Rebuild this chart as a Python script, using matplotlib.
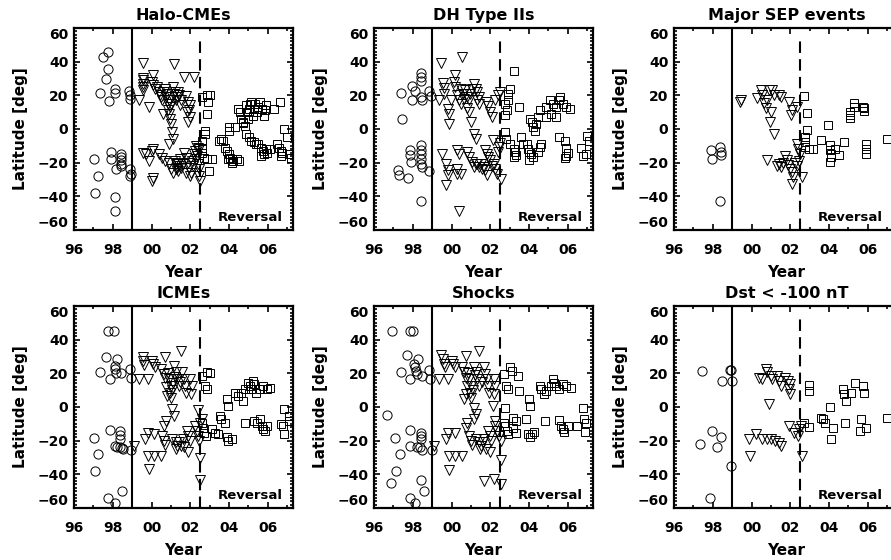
import matplotlib
matplotlib.use("Agg")
from matplotlib import pyplot as plt
from matplotlib.ticker import MultipleLocator, FuncFormatter

plt.rcParams["font.family"] = ["DejaVu Sans"]
plt.rcParams["font.weight"] = "bold"

# values: (decimal year, latitude in deg)
# o = before 1999, v = 1999 to reversal, s = after reversal
halo_c = [(1997.75, 45.5), (1997.5, 42.7), (1997.75, 35.5), (1997.63, 30), (1997.33, 21.6),
          (1997.8, 16.8), (1998.1, 24), (1998.12, 21.6), (1998.86, 22.8), (1998.9, 20), (1998.9, 17.6),
          (1997.04, -18), (1997.26, -28), (1997.1, -38), (1997.9, -13.8), (1997.9, -17.6),
          (1998.1, -40.5), (1998.1, -48.9), (1998.18, -23.8), (1998.4, -14.6), (1998.4, -16.6),
          (1998.4, -18.6), (1998.45, -20.6), (1998.4, -22), (1998.9, -23.6), (1998.95, -26.5), (1998.9, -28)]
halo_t = [(1999.57, 39), (2001.15, 38.5), (2000.1, 32), (1999.55, 30.5), (1999.55, 29), (1999.57, 27),
          (1999.57, 25), (1999.57, 23), (2000.05, 28), (2000.08, 26), (1999.37, 17), (1999.85, 13),
          (2000.3, 25), (2000.4, 22), (2000.5, 19), (2000.55, 17), (2000.7, 24), (2000.8, 21), (2000.9, 17),
          (2000.95, 13), (2000.9, 9), (2000.93, 6), (2000.98, 3), (2000.6, 9), (2001.1, 25), (2001.15, 21),
          (2001.25, 17), (2001.3, 19), (2001.4, 20), (2001.5, 17), (2001.7, 31), (2002.17, 31), (2001.9, 16),
          (2001.95, 11), (2002.0, 7), (2001.9, 4), (2001.8, 19.5), (2000.75, 19), (2001.0, 15), (2001.2, 22),
          (2001.45, 14), (2000.45, 20), (2002.0, 14), (2001.85, 10), (2000.65, 22), (2000.85, 15),
          (2001.05, 19), (2001.35, 22), (2000.2, 24), (2000.85, 11),
          (2001.07, -2), (2001.1, -6), (2000.9, -9), (1999.57, -14), (1999.7, -15), (1999.85, -19),
          (2000.0, -13), (2000.1, -12), (2000.1, -29), (2000.05, -31), (2000.4, -15), (2000.55, -17),
          (2000.7, -19), (2000.9, -20), (2001.0, -24), (2001.1, -26), (2001.25, -21), (2001.3, -23),
          (2001.4, -22), (2001.5, -23), (2001.7, -14), (2001.8, -17), (2001.9, -20), (2001.95, -23),
          (2002.05, -26), (2002.0, -28), (2002.2, -15), (2002.3, -18), (2002.4, -21), (2002.45, -24),
          (2002.45, -28), (2002.5, -31), (2002.3, -10), (2002.4, -11), (2002.45, -12), (2001.8, -26),
          (2001.2, -19), (2001.35, -20), (2001.45, -18), (2001.6, -21), (2002.1, -19), (2002.15, -22),
          (2001.28, -24), (2001.38, -25), (2002.25, -13), (2002.35, -16)]
halo_s = [(2002.63, 19), (2002.85, 20), (2003.0, 20), (2002.9, 16), (2002.85, 9), (2002.6, -7),
          (2002.6, -11), (2002.6, -14), (2002.85, -18), (2002.97, -25), (2002.7, -17), (2002.75, -3),
          (2002.75, -1), (2003.1, -18), (2003.6, -6), (2003.7, -7), (2003.5, -7), (2004.0, 1), (2004.0, -1),
          (2003.8, -11), (2003.9, -13), (2004.0, -15), (2004.05, -17), (2004.15, -18), (2004.2, -19),
          (2004.4, -18), (2004.5, -19), (2003.95, -18), (2004.15, -20),
          (2004.45, 12), (2004.55, 10), (2004.6, 6), (2004.7, 4), (2004.9, 14), (2004.95, 10), (2005.0, 6),
          (2005.05, 12), (2005.1, 15), (2005.15, 16), (2005.25, 8), (2005.3, 12), (2005.35, 15),
          (2005.45, 10), (2005.5, 13), (2005.6, 16), (2005.7, 12), (2005.8, 8), (2005.85, 11), (2005.9, 14),
          (2004.3, 1), (2004.7, 3.5), (2004.8, 1.5), (2006.65, 16), (2006.3, 12),
          (2004.9, -3), (2005.05, -5), (2005.15, -7), (2005.3, -8), (2005.4, -9), (2005.5, -9),
          (2005.65, -11), (2005.75, -13), (2005.8, -15), (2005.9, -12), (2005.95, -14), (2005.65, -16),
          (2006.5, -9), (2006.6, -11), (2006.7, -13), (2006.7, -16), (2006.75, -14), (2006.85, 0),
          (2007.0, -5), (2007.1, -15), (2007.2, -17), (2006.1, -12)]

dh_c = [(1997.4, 21.6), (1997.45, 5.7), (1997.96, 25.6), (1998.1, 22.8), (1997.96, 17.2), (1998.43, 33),
        (1998.43, 30.7), (1998.43, 28.8), (1998.5, 17.2), (1998.4, 19), (1998.86, 22.8), (1998.94, 19.6),
        (1997.24, -24.6), (1997.27, -27.6), (1997.75, -29), (1997.85, -12.6), (1997.85, -15.6),
        (1997.9, -19.6), (1998.4, -9.6), (1998.43, -12.2), (1998.4, -15), (1998.43, -17.6), (1998.4, -20.6),
        (1998.5, -22.6), (1998.86, -25), (1998.43, -43)]
dh_t = [(1999.45, 39), (2000.56, 42.7), (2000.2, 32), (1999.55, 27.6), (1999.6, 24.3), (1999.63, 21),
        (1999.37, 17), (1999.96, 17), (1999.8, 12), (1999.87, 9), (2000.13, 28.2), (2000.2, 25),
        (2000.3, 20), (2000.4, 17), (2000.47, 15), (2000.5, 24), (2000.6, 21), (2000.7, 23), (2000.8, 19),
        (2000.9, 17), (2000.8, 12.3), (2000.9, 10), (2001.0, 4), (2001.15, 27), (2001.24, 24),
        (2001.3, 22), (2001.4, 19), (2001.3, 17), (2001.4, 15), (2001.8, 16), (2001.9, 13.6), (2002.0, 10),
        (2002.1, 7.3), (2002.25, 17), (2002.4, 20), (2002.5, 22), (1999.87, 3), (2000.65, 18),
        (2000.95, 21), (2001.05, 24),
        (2001.15, -2.7), (2001.24, -5.7), (2000.27, -12.6), (2000.4, -14.6), (1999.5, -15), (1999.7, -20.6),
        (1999.8, -24.6), (1999.83, -27.6), (1999.7, -33.5), (2000.3, -23.6), (2000.27, -26.6),
        (2000.47, -26.6), (2000.4, -48.9), (2000.8, -13.6), (2000.9, -16.6), (2001.07, -19.6),
        (2001.15, -22.6), (2001.24, -20.6), (2001.32, -20.6), (2001.4, -22.6), (2001.5, -20.6),
        (2001.65, -22.6), (2001.75, -24.6), (2001.83, -27.6), (2001.75, -12.6), (2001.83, -14.6),
        (2001.9, -16.6), (2002.0, -18.6), (2002.2, -20.6), (2002.25, -23.6), (2002.35, -26.6),
        (2002.4, -13.6), (2002.45, -10.6), (2002.5, -8.6), (2002.55, -29.6), (2002.15, -6.7),
        (2001.55, -24), (2002.1, -22)]
dh_s = [(2003.2, 34.7), (2003.0, 24), (2002.93, 21), (2002.9, 17), (2002.77, 15), (2002.85, 11),
        (2002.77, 8.3), (2002.77, -1.7), (2002.82, -5.7), (2003.0, -8.7), (2003.2, -11.6), (2003.25, -13.6),
        (2003.35, -15.6), (2003.2, -16.6), (2003.5, 13.3), (2003.6, -4.7), (2003.7, -8.7), (2003.87, -8.7),
        (2003.95, -11.6), (2004.0, -13.6), (2004.1, -14.6), (2004.2, -16.6), (2004.0, -18.6),
        (2004.47, -13.6), (2004.55, -10.6), (2004.63, -8.7),
        (2004.05, 6), (2004.13, 4), (2004.2, 1), (2004.3, -1), (2004.38, 3), (2004.47, 7), (2004.55, 11),
        (2004.9, 13), (2005.07, 17), (2005.24, 15), (2005.4, 13), (2005.57, 17), (2005.75, 15),
        (2005.9, 13), (2006.1, 12), (2005.15, 9), (2005.4, 7), (2004.9, 7), (2005.6, 19),
        (2005.57, -5), (2005.83, -7), (2005.9, -11), (2005.99, -14), (2005.9, -16), (2005.83, -17),
        (2006.8, -16), (2006.94, -15), (2007.0, -4), (2007.1, -7), (2006.7, -11)]

sep_c = [(1997.92, -12.6), (1997.97, -17.6), (1998.38, -10.6), (1998.43, -13.6), (1998.43, -15.6),
         (1998.38, -43)]
sep_t = [(1999.4, 16.2), (1999.45, 17.5), (2000.3, 18.2), (2000.47, 23.2), (2000.56, 20.2), (2000.64, 15.2),
         (2000.73, 12.2), (2000.8, 17.2), (2000.9, 23.2), (2000.98, 10.2), (2000.93, 4.3), (2001.15, -2.7),
         (2001.07, 23.2), (2001.15, 20.2), (2001.4, 20.2), (2001.5, 19.2), (2001.95, 16.2), (2002.05, 8.3),
         (2002.1, 11), (2002.34, 13.3),
         (2000.8, -18.2), (2001.4, -20.6), (2001.5, -22.6), (2001.75, -16), (2001.83, -18.5),
         (2001.88, -21.5), (2002.0, -23.5), (2002.07, -25.5), (2002.15, -28.5), (2002.1, -32.5),
         (2002.25, -20), (2002.34, -22), (2002.43, -19), (2002.5, -15), (2002.35, -8.7), (2002.4, -11.6),
         (2002.6, -28.6), (2001.6, -20), (2001.3, -22)]
sep_s = [(2002.73, 19.6), (2002.85, 9.3), (2002.85, -0.7), (2002.75, -4.7), (2002.75, -7.7), (2002.78, -10.6),
         (2002.95, -11.6), (2003.15, -11.6), (2003.6, -6.3), (2003.95, 2.3), (2004.05, -9.6),
         (2004.05, -12.6), (2004.1, -14.6), (2004.1, -16.6), (2004.05, -19.6), (2004.3, -11.6),
         (2004.5, -15.6), (2004.78, -7.7), (2005.06, 10.2), (2005.06, 8.3), (2005.06, 6.3), (2005.29, 15.2),
         (2005.3, 13.3), (2005.75, 13.3), (2005.8, 12.2), (2005.78, 10.8), (2005.9, -8.7), (2005.9, -11.6),
         (2005.9, -14.6), (2007.0, -5.7)]

icme_c = [(1997.75, 45.4), (1998.04, 45.4), (1997.67, 30), (1997.33, 21), (1997.84, 16.5), (1998.1, 24.5),
          (1998.1, 22.5), (1998.15, 20), (1998.2, 28.5), (1998.4, 20), (1998.9, 22.5), (1998.94, 17.5),
          (1997.04, -18.3), (1997.26, -27.9), (1997.1, -38.2), (1997.84, -13.9), (1998.38, -14.3),
          (1998.38, -16.9), (1998.35, -18.9), (1998.1, -23), (1998.2, -23.5), (1998.35, -24),
          (1998.48, -24.5), (1998.55, -25), (1998.94, -25.3), (1997.75, -54), (1998.1, -57), (1998.5, -49.8)]
icme_t = [(1999.54, 29.9), (1999.57, 27.5), (1999.6, 25), (2000.0, 27.5), (2000.1, 25.5), (2000.2, 24),
          (1999.37, 16.5), (1999.8, 16.5), (2000.7, 30), (2001.5, 33.4), (2000.5, 22.5), (2000.64, 19.5),
          (2000.7, 17.5), (2000.9, 16.5), (2001.0, 12.5), (2000.95, 8.6), (2001.0, 5.6), (2001.15, 24.5),
          (2001.24, 20.5), (2001.32, 16.5), (2001.4, 12.5), (2001.57, 20.5), (2001.66, 16.5),
          (2001.75, 12.5), (2001.78, 8.6), (2002.0, 16.5), (2002.1, 12.5), (2002.05, 7.6), (2001.1, 14.5),
          (2000.8, 6.6), (2001.07, -1.4), (2001.15, -5.4), (2000.73, -8.4), (2000.64, -11.3), (2001.2, 18),
          (2000.85, 20), (2001.45, 15), (2000.75, 12), (2001.05, 10),
          (1999.11, -23.3), (1999.67, -19.3), (1999.8, -15.3), (2000.13, -16.3), (1999.8, -29),
          (2000.13, -29), (2000.47, -29), (1999.85, -36.8), (2000.56, -17.3), (2000.64, -20), (2000.7, -22.3),
          (2001.07, -19), (2001.24, -21), (2001.32, -23), (2001.4, -21), (2001.5, -23), (2001.83, -14),
          (2001.9, -17), (2002.0, -20), (2001.9, -27), (2002.25, -11), (2002.33, -14), (2002.4, -17),
          (2002.45, -20), (2002.4, -1.8), (2002.5, -30.2), (2002.5, -43.2), (2002.6, -7.4), (2002.5, -9.5),
          (2001.6, -19), (2001.7, -24), (2001.28, -25)]
icme_s = [(2002.63, 18.5), (2002.85, 20.5), (2003.0, 20), (2002.75, 12.5), (2002.85, 10.5), (2002.6, -9.4),
          (2002.68, -12.3), (2002.73, -15.3), (2002.8, -17.3), (2003.1, -13.3), (2003.27, -15.3),
          (2003.44, -16.3), (2003.53, -5.4), (2003.6, -7.4), (2003.9, 4.6), (2003.96, 0.6), (2003.8, -9.4),
          (2003.9, -18), (2003.96, -20), (2004.13, -19), (2004.3, 8.6), (2004.47, 6.6), (2004.64, 8.6),
          (2004.8, 10.5), (2004.7, 3.6), (2005.0, 14.5), (2005.1, 12.5), (2005.15, 10.5), (2005.25, 15.5),
          (2005.3, 13.5), (2005.4, 8.6), (2005.3, -8.4), (2005.45, -9.4), (2005.6, -7), (2005.7, -11),
          (2005.75, -13), (2005.85, -14), (2005.95, -11), (2005.6, 10.5), (2005.75, 12.5), (2005.95, 10.5),
          (2006.1, 11.5), (2004.8, -9.4), (2006.7, -10.3), (2006.8, -11.3), (2006.85, -16.3),
          (2006.85, -1.4), (2007.1, -5.4), (2007.1, -8.4)]

shock_c = [(1996.94, 45.4), (1997.84, 45.4), (1998.0, 45.4), (1997.72, 30.8), (1997.41, 20.9),
           (1997.84, 16.5), (1998.1, 23.5), (1998.15, 21.5), (1998.2, 19.5), (1998.05, 25.5), (1998.26, 28.5),
           (1998.47, 18.5), (1998.86, 22.1), (1998.9, 16.9),
           (1996.65, -5), (1997.07, -18.3), (1997.33, -27.9), (1997.16, -38.2), (1996.9, -45),
           (1997.84, -13.9), (1998.43, -15.3), (1998.43, -17.3), (1998.4, -19.3), (1997.84, -23),
           (1998.2, -23.5), (1998.35, -24), (1998.5, -25.3), (1999.0, -25.3), (1997.84, -54), (1998.1, -57),
           (1998.57, -49.8), (1998.4, -43.2)]
shock_t = [(1999.45, 30.8), (1999.54, 28.5), (1999.6, 25.5), (1999.67, 23.5), (2000.0, 27.5), (2000.1, 25.5),
           (2000.2, 24), (1999.37, 16.5), (1999.8, 16.5), (2000.73, 30.4), (2001.4, 33.4), (2000.56, 23.5),
           (2000.64, 20.5), (2000.73, 17.5), (2000.9, 16.5), (2001.0, 12.5), (2000.95, 8.6), (2001.0, 5.6),
           (2001.15, 23.5), (2001.24, 20.5), (2001.32, 16.5), (2001.4, 12.5), (2001.65, 23.5),
           (2001.75, 19.5), (2001.83, 16.5), (2001.9, 12.5), (2001.95, 8.6), (2002.17, 16.5),
           (2002.25, 12.5), (2002.17, 7.6), (2002.15, 0.6), (2000.8, 12.5), (2000.73, 7.6), (2000.65, 4.6),
           (2001.15, -0.4), (2001.24, -4.4), (2001.15, -7.4), (2000.8, -9.4), (2000.73, -12.3), (2001.2, 19),
           (2001.55, 15), (2000.85, 20), (2001.1, 10),
           (1999.11, -23.3), (1999.7, -19.3), (1999.8, -15.3), (2000.2, -15.7), (1999.88, -29), (2000.2, -29),
           (2000.56, -29), (1999.85, -37.2), (2000.9, -17.3), (2000.98, -20), (2001.07, -22.3),
           (2001.24, -19), (2001.4, -21), (2001.5, -23), (2001.6, -21), (2001.9, -14), (2002.0, -17),
           (2002.05, -20), (2002.0, -27), (2002.25, -11), (2002.35, -14), (2002.45, -17), (2002.55, -20),
           (2002.25, -8.4), (2001.7, -44), (2002.2, -43), (2002.55, -31.2), (2002.55, -45.6), (2001.7, -19),
           (2001.8, -25), (2001.45, -25)]
shock_s = [(2002.7, 19.5), (2003.0, 24), (2003.1, 21.5), (2003.45, 18.5), (2002.8, 12.5), (2002.93, 10.5),
           (2002.77, -0.4), (2002.7, -9.4), (2002.77, -11.3), (2002.85, -14.3), (2002.93, -16.3),
           (2003.15, -12.3), (2003.35, -15.3), (2003.15, -6.4), (2003.35, -8.4), (2003.5, 9.6), (2004.0, 4.6),
           (2004.05, 0.6), (2003.85, -7.4), (2003.95, -16), (2004.05, -18), (2004.15, -16), (2004.25, -15),
           (2004.55, 12.5), (2004.6, 10.5), (2004.75, 7.6), (2004.85, 9.6), (2005.15, 12.5), (2005.24, 16.5),
           (2005.3, 14.5), (2005.4, 12.5), (2005.57, 10.5), (2005.75, 13.5), (2005.9, 12.5), (2006.15, 11.5),
           (2004.8, -8.4), (2005.57, -8), (2005.65, -11), (2005.75, -13), (2005.8, -15), (2005.99, -11),
           (2006.5, -11.3), (2006.77, -0.4), (2006.85, -7.4), (2006.94, -9.4), (2006.9, -15)]

dst_c = [(1997.46, 21.1), (1998.9, 22.1), (1998.95, 22.1), (1998.5, 15.5), (1999.0, 15.5), (1997.36, -21.9),
         (1997.97, -14.3), (1998.43, -17.9), (1998.2, -23.9), (1998.94, -35.2), (1997.87, -54)]
dst_t = [(2000.73, 22.5), (2000.4, 17.5), (2000.56, 16.5), (2000.8, 20.5), (2000.98, 18.5), (2001.07, 16.5),
         (2001.3, 18.5), (2001.4, 15.5), (2001.5, 12.5), (2000.9, 1.6), (2001.75, 17.5), (2001.9, 15.5),
         (2001.98, 13.5), (2001.95, 10.5), (2002.0, 7.6), (1999.88, -19.3), (2000.25, -16.3),
         (2000.81, -19.3), (2001.03, -19.3), (2001.4, -21.3), (2001.5, -23.3), (2001.92, -11.3),
         (2002.17, -15.3), (2002.4, -17.3), (2002.43, -13.3), (2002.56, -11.3), (1999.9, -29.2),
         (2002.6, -29.2), (2000.55, -19), (2001.2, -20)]
dst_s = [(2002.94, 12.9), (2002.94, 9.6), (2002.73, -9.7), (2002.94, -11.7), (2003.6, -6.4), (2003.7, -7.4),
         (2003.79, -9.4), (2004.04, 0.2), (2004.1, -19.3), (2004.2, -12.3), (2004.8, -9.4), (2004.72, 10.5),
         (2004.78, 8), (2004.85, 3.6), (2005.15, 8.6), (2005.32, 14.5), (2005.75, 12.5), (2005.8, 8.6),
         (2005.66, -7.4), (2005.6, -14.3), (2005.9, -12.3), (2007.0, -6.4)]

titles = ["Halo-CMEs", "DH Type IIs", "Major SEP events", "ICMEs", "Shocks", "Dst < -100 nT"]
panels = [(halo_c, halo_t, halo_s), (dh_c, dh_t, dh_s), (sep_c, sep_t, sep_s),
          (icme_c, icme_t, icme_s), (shock_c, shock_t, shock_s), (dst_c, dst_t, dst_s)]
cycle_start = 1999.0
reversal = 2002.5

W, H = 891, 560
fig = plt.figure(figsize=(W / 100, H / 100), dpi=100)

lefts = [74, 374, 674]
tops = [28, 306]
ah = 202
widths = [219, 219, 225]     # last column runs off the right edge of the picture
x0, span = 1996, 11.3        # years shown across 219 px

for i, (title, (pc, pt, ps)) in enumerate(zip(titles, panels)):
    col = i % 3
    l = lefts[col]
    t = tops[i // 3]
    aw = widths[col]
    ax = fig.add_axes([l / W, 1 - (t + ah) / H, aw / W, ah / H])

    for pts, mk, ms in [(pc, "o", 6.6), (pt, "v", 6.8), (ps, "s", 6.2)]:
        x, y = zip(*pts)
        ax.plot(x, y, ls="none", marker=mk, ms=ms, mfc="none", mec="black", mew=0.7)

    ax.axvline(cycle_start, color="black", lw=1.5)
    ax.axvline(reversal, ymax=0.96, color="black", lw=1.5, ls=(0, (5.5, 3)))
    ax.text(0.955 * 219 / aw, 0.03, "Reversal", transform=ax.transAxes, ha="right", va="bottom",
            fontsize=9.5, fontweight="bold")

    ax.set_xlim(x0, x0 + span * aw / 219)
    ax.set_ylim(-60, 60)
    ax.xaxis.set_major_locator(MultipleLocator(2))
    ax.xaxis.set_minor_locator(MultipleLocator(1))
    ax.yaxis.set_major_locator(MultipleLocator(20))
    ax.yaxis.set_minor_locator(MultipleLocator(2))
    ax.xaxis.set_major_formatter(FuncFormatter(lambda v, p: "%02d" % (int(round(v)) % 100)))
    ax.tick_params(which="both", direction="in", top=True, right=True, width=1.2, labelsize=10)
    ax.tick_params(which="major", length=4, pad=9)
    ax.tick_params(axis="y", which="major", pad=4)
    ax.tick_params(which="minor", length=2)
    for sp in ax.spines.values():
        sp.set_linewidth(1.6)

    ax.set_title(title, fontsize=11.5, fontweight="bold", pad=6)
    ax.set_xlabel("Year", fontsize=11, fontweight="bold", labelpad=6)
    ax.set_ylabel("Latitude [deg]", fontsize=11, fontweight="bold", labelpad=7)

    # end labels pulled inside the frame, as in the original
    fig.canvas.draw()
    for tick, loc in zip(ax.yaxis.get_major_ticks(), ax.yaxis.get_majorticklocs()):
        if abs(loc - 60) < 1e-6:
            tick.label1.set_va("top")
        elif abs(loc + 60) < 1e-6:
            tick.label1.set_va("bottom")

fig.savefig("out.png", dpi=100)
